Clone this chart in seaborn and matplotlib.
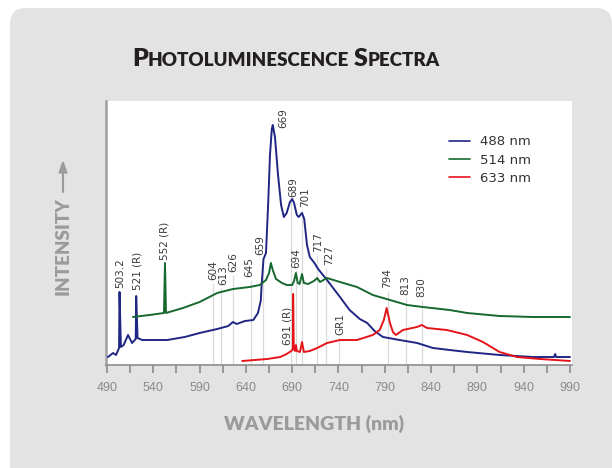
import numpy as np
import pandas as pd
import matplotlib
matplotlib.use('Agg')
import matplotlib.pyplot as plt
from matplotlib.patches import FancyBboxPatch
import seaborn as sns

# spectra (wavelength nm, intensity in arbitrary units)
blue_wl = [491, 496.5, 499.7, 503, 503.5, 505, 508, 512.7, 517, 521, 521.5, 523, 528, 542, 555,
           574, 590, 609, 621, 626, 630, 639, 648, 653, 656, 657, 659, 661.7, 664, 666, 668, 669,
           671.4, 674.7, 678, 681, 684, 687.6, 690, 692, 695, 697, 700.6, 703, 706, 709, 714, 718,
           727.6, 741.6, 752, 763, 771, 779, 788, 806, 825, 842, 860, 879, 914, 950, 972.7, 974,
           975, 990]
blue_int = [8, 12, 10, 17, 73, 18, 20, 30, 22, 26, 69, 27, 25, 25, 25,
            28, 32, 36, 39, 43, 41, 44, 45, 52, 64, 80, 106, 112, 160, 210, 236, 240,
            228, 190, 160, 148, 152, 163, 166, 162, 150, 148, 152, 146, 120, 108, 102, 96,
            85, 68, 55, 46, 42, 34, 28, 25, 22, 17, 15, 13, 10, 8, 8, 11,
            8, 8]

green_wl = [518, 536, 551.5, 552.6, 553.7, 572, 590, 609, 626, 644, 655, 661.7, 665, 667, 669,
            672.5, 679, 684, 690, 692, 694, 696, 698, 700.6, 702.6, 707, 713.5, 717, 720, 727.6,
            741.6, 760, 777, 795.6, 814, 831, 860, 879, 914, 950, 990]
green_int = [48, 50, 52, 102, 52, 57, 63, 72, 76, 78, 80, 85, 92, 102, 95,
             86, 82, 80, 80, 84, 92, 82, 81, 91, 82, 81, 84, 87, 83, 87,
             83, 78, 70, 65, 60, 58, 55, 52, 49, 48, 48]

red_wl = [636, 663, 677, 684, 689, 690.7, 691, 691.7, 693, 694, 695, 698.4, 700.6, 702.6, 709,
          717, 727.6, 741.6, 760, 777, 784.5, 789, 792, 795.6, 798.8, 802, 809.6, 824.8, 830,
          835.6, 857, 879, 896, 914, 932.8, 957.6, 990]
red_int = [4, 6, 8, 11, 14, 16, 71, 16, 14, 20, 14, 13, 23, 13, 14,
           17, 22, 25, 25, 30, 35, 45, 57, 42, 33, 30, 35, 38, 40,
           37, 35, 30, 23, 13, 8, 6, 4]

series_names = ['488 nm', '514 nm', '633 nm']
series_colors = ['#1f2683', '#17682f', '#e5141b']

# peak labels
peak_text = ['503.2', '521 (R)', '552 (R)', '604', '613', '626', '645', '659', '669', '689',
             '701', '694', '717', '727', '691 (R)', 'GR1', '794', '813', '830']
peak_x = [504, 522.4, 552.6, 604.5, 615.3, 626, 643.3, 655.2, 680, 690.9,
          703.8, 694, 717.8, 729.7, 684.4, 741.6, 792.4, 811.8, 829.1]
peak_y = [77, 75, 105, 85, 80, 93, 88, 110, 237, 168,
          158, 97, 113, 100, 20, 30, 77, 70, 68]

# thin grey guide lines
guide_wl = [604, 613, 626, 645, 659, 689, 694, 701, 717, 727, 741, 794, 813, 830]
guide_top = [82, 77, 90, 85, 107, 165, 95, 155, 110, 97, 27, 74, 67, 65]

x_ticks = list(range(490, 991, 50))
x_minor = list(range(515, 991, 50))

sns.set_style('white')
plt.rcParams['font.family'] = ['DejaVu Sans']

fig = plt.figure(figsize=(6.12, 4.68), dpi=100, facecolor='white')
card = FancyBboxPatch((0.10, -0.4), 6.02, 5.0, boxstyle='round,pad=0,rounding_size=0.16',
                      transform=fig.dpi_scale_trans, facecolor='#e3e3e3', edgecolor='none',
                      zorder=-10)
fig.patches.append(card)

ax = fig.add_axes([106 / 612, 103 / 468, 466 / 612, 264 / 468])
ax.set_facecolor('white')

ax.vlines(guide_wl, 0, guide_top, color='#dadada', lw=0.9, zorder=1)

frames = [
    pd.DataFrame({'wl': blue_wl, 'intensity': blue_int}),
    pd.DataFrame({'wl': green_wl, 'intensity': green_int}),
    pd.DataFrame({'wl': red_wl, 'intensity': red_int}),
]
for df, name, col in zip(frames, series_names, series_colors):
    sns.lineplot(data=df, x='wl', y='intensity', ax=ax, color=col, lw=1.4, label=name,
                 zorder=3)

for txt, x, y in zip(peak_text, peak_x, peak_y):
    ax.text(x, y, txt, rotation=90, ha='center', va='bottom', fontsize=7.5,
            color='#3a3a3a', zorder=4)

ax.set_xlim(488.9, 992.2)
ax.set_ylim(0, 264)
ax.set_yticks([])
ax.set_xticks(x_ticks)
ax.set_xticks(x_minor, minor=True)
ax.set_xticklabels([str(t) for t in x_ticks], fontsize=9, color='#8a8a8a',
                   family='Liberation Sans')
ax.tick_params(axis='x', which='both', direction='out', length=6, width=1.2,
               color='#8c8c8c', pad=6, bottom=True)
ax.set_xlabel('')
ax.set_ylabel('')
for side in ['top', 'right']:
    ax.spines[side].set_visible(False)
ax.spines['left'].set_color('#a0a0a0')
ax.spines['left'].set_linewidth(1.8)
ax.spines['bottom'].set_color('#8c8c8c')
ax.spines['bottom'].set_linewidth(1.2)

leg = ax.legend(loc='upper left', bbox_to_anchor=(0.735, 0.870), frameon=False,
                fontsize=9.5, handlelength=1.65, handletextpad=0.75, labelspacing=0.4,
                borderpad=0, borderaxespad=0)
for t in leg.get_texts():
    t.set_color('#333333')
for h in leg.get_lines():
    h.set_linewidth(1.2)

# axis titles
fig.text(314 / 612, 1 - 424 / 468, 'WAVELENGTH (nm)', ha='center', va='center',
         fontsize=14, fontweight='heavy', color='#9b9b9b', family='Lato')
fig.text(63 / 612, 1 - 246 / 468, 'INTENSITY', ha='center', va='center', rotation=90,
         fontsize=13.5, fontweight='heavy', color='#9b9b9b', family='Lato')
fig.add_artist(plt.Line2D([63 / 612, 63 / 612], [1 - 192 / 468, 1 - 166 / 468],
                          color='#9b9b9b', lw=1.5))
ax.annotate('', xy=(63, 468 - 157), xytext=(63, 468 - 172), xycoords='figure pixels',
            textcoords='figure pixels', annotation_clip=False,
            arrowprops=dict(arrowstyle='-|>,head_length=0.7,head_width=0.25',
                            color='#9b9b9b', lw=1.5))

# small caps title
pieces = [('P', 18), ('HOTOLUMINESCENCE', 13.5), (' ', 13.5), ('S', 18), ('PECTRA', 13.5)]
renderer = fig.canvas.get_renderer()
widths = []
for s, size in pieces:
    t = fig.text(0, 0, s, fontsize=size, fontweight='heavy', family='Lato')
    widths.append(t.get_window_extent(renderer).width)
    t.remove()
x0 = 286 - sum(widths) / 2
y0 = 468 - 66
for (s, size), w in zip(pieces, widths):
    fig.text(x0 / 612, y0 / 468, s, fontsize=size, fontweight='heavy', family='Lato',
             color='#231f20', ha='left', va='baseline')
    x0 += w

fig.savefig('out.png', dpi=100, facecolor='white')
